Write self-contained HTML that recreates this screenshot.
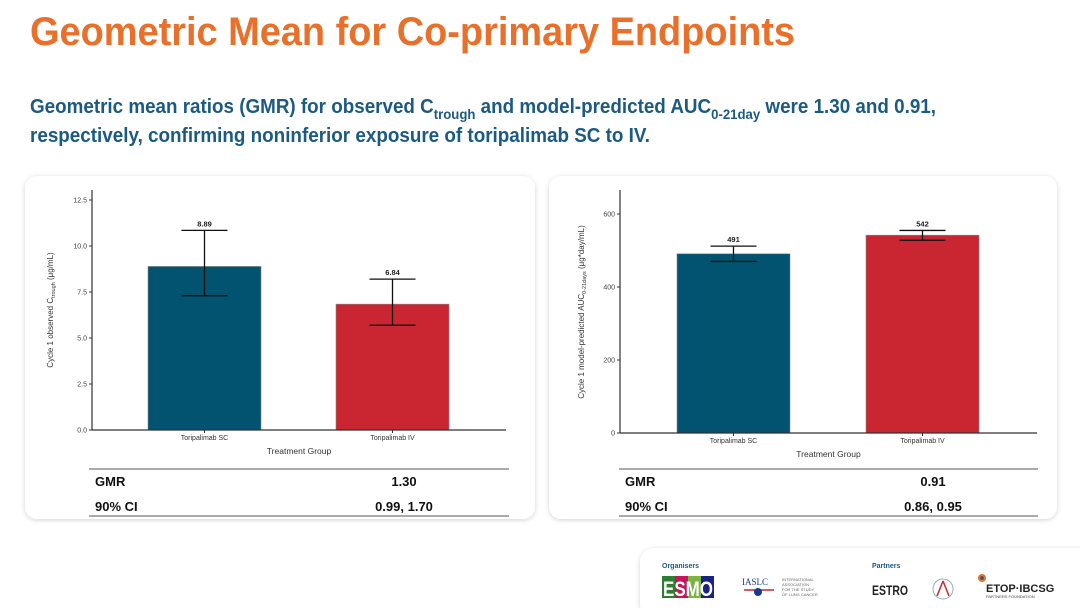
<!DOCTYPE html>
<html><head><meta charset="utf-8"><style>
html,body{margin:0;padding:0;background:#fff;}
svg{display:block;font-family:"Liberation Sans",Arial,sans-serif;}
</style></head><body>
<svg id="page" width="1080" height="608" viewBox="0 0 1080 608" xmlns="http://www.w3.org/2000/svg">
<defs>
<filter id="sh" x="-5%" y="-5%" width="110%" height="115%"><feDropShadow dx="0" dy="1" stdDeviation="2.5" flood-color="#000" flood-opacity="0.18"/></filter>
</defs>
<text x="30" y="45" font-size="40" font-weight="bold" fill="#E8702A" textLength="765" lengthAdjust="spacingAndGlyphs">Geometric Mean for Co-primary Endpoints</text>
<text x="30" y="113" font-size="20" font-weight="bold" fill="#1B5A82" textLength="906" lengthAdjust="spacingAndGlyphs">Geometric mean ratios (GMR) for observed C<tspan font-size="14" dy="6">trough</tspan><tspan dy="-6"> and model-predicted AUC</tspan><tspan font-size="14" dy="6">0-21day</tspan><tspan dy="-6"> were 1.30 and 0.91,</tspan></text>
<text x="30" y="142" font-size="20" font-weight="bold" fill="#1B5A82" textLength="620" lengthAdjust="spacingAndGlyphs">respectively, confirming noninferior exposure of toripalimab SC to IV.</text>

<rect x="25" y="176" width="510" height="343" rx="12" fill="#fff" filter="url(#sh)"/>
<rect x="549" y="176" width="508" height="343" rx="12" fill="#fff" filter="url(#sh)"/>
<g id="left"></g>
<g id="right"></g>

<text transform="translate(53,310) rotate(-90)" font-size="8" fill="#333" text-anchor="middle">Cycle 1 observed C<tspan font-size="5.5" dy="2">trough</tspan><tspan dy="-2"> (μg/mL)</tspan></text>
<text transform="translate(584,312) rotate(-90)" font-size="8" fill="#333" text-anchor="middle">Cycle 1 model-predicted AUC<tspan font-size="5.5" dy="2">0-21days</tspan><tspan dy="-2"> (μg*day/mL)</tspan></text>

<rect x="640" y="548" width="460" height="70" rx="14" fill="#fff" filter="url(#sh)"/>
<text x="662" y="568" font-size="7" font-weight="bold" fill="#1B5A82">Organisers</text>
<text x="872" y="568" font-size="7" font-weight="bold" fill="#1B5A82">Partners</text>
<g>
<rect x="662" y="576" width="13" height="22" fill="#2e7d32"/><rect x="675" y="576" width="13" height="22" fill="#c2185b"/><rect x="688" y="576" width="13" height="22" fill="#7cb342"/><rect x="701" y="576" width="13" height="22" fill="#1a237e"/>
<text x="663" y="596" font-size="21" font-weight="bold" fill="#fff" textLength="50" lengthAdjust="spacingAndGlyphs">ESMO</text></g>
<text x="742" y="585" font-size="9" font-family="Liberation Serif,serif" fill="#1a3a8a">IASLC</text>
<line x1="744" y1="590" x2="774" y2="590" stroke="#c62828" stroke-width="1.5"/><circle cx="758" cy="592" r="4" fill="#1a3a8a"/>
<text x="782" y="581" font-size="4" fill="#666">INTERNATIONAL</text><text x="782" y="586" font-size="4" fill="#666">ASSOCIATION</text><text x="782" y="591" font-size="4" fill="#666">FOR THE STUDY</text><text x="782" y="596" font-size="4" fill="#666">OF LUNG CANCER</text>
<text x="872" y="595" font-size="14" font-weight="bold" fill="#222" textLength="36" lengthAdjust="spacingAndGlyphs">ESTRO</text>
<circle cx="943" cy="589" r="10" fill="none" stroke="#9ab" stroke-width="1"/><path d="M943 581 L937 596 M943 581 L949 596" stroke="#c62828" stroke-width="1.5" fill="none"/>
<circle cx="982" cy="578" r="4" fill="#e8702a"/><circle cx="982" cy="578" r="1.8" fill="#1B5A82"/>
<text x="986" y="592" font-size="11" font-weight="bold" fill="#222">ETOP·IBCSG</text>
<text x="986" y="598" font-size="4" fill="#444">PARTNERS FOUNDATION</text>

<script>
const categories = ["Toripalimab SC", "Toripalimab IV"];
const cTroughValues = [8.89, 6.84];
const cTroughLower = [7.3, 5.7];
const cTroughUpper = [10.85, 8.2];
const cTroughTicks = [0, 2.5, 5, 7.5, 10, 12.5];
const cTroughTickLabels = ["0.0", "2.5", "5.0", "7.5", "10.0", "12.5"];
const cTroughValueLabels = ["8.89", "6.84"];
const aucValues = [491, 542];
const aucLower = [470, 528];
const aucUpper = [512, 555];
const aucTicks = [0, 200, 400, 600];
const aucTickLabels = ["0", "200", "400", "600"];
const aucValueLabels = ["491", "542"];
const leftTable = ["1.30", "0.99, 1.70"];
const rightTable = ["0.91", "0.86, 0.95"];
const colors = ["#02536F", "#C92631"];
const NS = "http://www.w3.org/2000/svg";
function mk(parent, tag, attrs, text) {
  const e = document.createElementNS(NS, tag);
  for (const k in attrs) e.setAttribute(k, attrs[k]);
  if (text !== undefined) e.textContent = text;
  parent.appendChild(e);
  return e;
}
function drawChart(g, cfg) {
  const y = v => cfg.y0 - (v - 0) / cfg.vmax * (cfg.y0 - cfg.yTop);
  const bx = i => cfg.barX[i];
  const ya = mk(g, "line", {x1: cfg.ax, y1: 190, x2: cfg.ax, y2: cfg.y0, stroke: "#333", "stroke-width": 1.2});
  
  
  cfg.ticks.forEach((t, i) => {
    const tk = mk(g, "line", {x1: cfg.ax - 3, y1: y(t), x2: cfg.ax, y2: y(t), stroke: "#333", "stroke-width": 1});
    
    
    const tl = mk(g, "text", {x: cfg.ax - 5, y: y(t) + 2.5, "font-size": 7, fill: "#444", "text-anchor": "end"}, cfg.tickLabels[i]);
    
    
  });
  cfg.values.forEach((v, i) => {
    const x0 = bx(i), w = cfg.barW, cx = x0 + w / 2;
    const b = mk(g, "rect", {x: x0, y: y(v), width: w, height: cfg.y0 - y(v), fill: colors[i], stroke: "#888", "stroke-width": 0.6});
    
    
    const eb = mk(g, "path", {d: `M${cx} ${y(cfg.lower[i])}V${y(cfg.upper[i])}M${cx - 23} ${y(cfg.upper[i])}H${cx + 23}M${cx - 23} ${y(cfg.lower[i])}H${cx + 23}`, stroke: "#111", "stroke-width": 1.3, fill: "none"});
    
    
    const vl = mk(g, "text", {x: cx, y: y(cfg.upper[i]) - 4, "font-size": 7.5, "font-weight": "bold", fill: "#222", "text-anchor": "middle"}, cfg.valueLabels[i]);
    
    
    const xt = mk(g, "line", {x1: cx, y1: cfg.y0, x2: cx, y2: cfg.y0 + 3, stroke: "#333"});
    
    
    const xl = mk(g, "text", {x: cx, y: cfg.y0 + 10, "font-size": 7, fill: "#333", "text-anchor": "middle"}, categories[i]);
    
    
  });
  const xa = mk(g, "line", {x1: cfg.ax, y1: cfg.y0, x2: cfg.axEnd, y2: cfg.y0, stroke: "#333", "stroke-width": 1.2});
  
  
  const xtt = mk(g, "text", {x: (cfg.ax + cfg.axEnd) / 2, y: cfg.y0 + 24, "font-size": 8.5, fill: "#333", "text-anchor": "middle"}, "Treatment Group");
  
  
  const tl1 = mk(g, "line", {x1: cfg.tx0, y1: 469, x2: cfg.tx1, y2: 469, stroke: "#777", "stroke-width": 1.2});
  
  
  const tl2 = mk(g, "line", {x1: cfg.tx0, y1: 516, x2: cfg.tx1, y2: 516, stroke: "#777", "stroke-width": 1.2});
  
  
  const labels = ["GMR", "90% CI"];
  [486, 511].forEach((ry, i) => {
    const a = mk(g, "text", {x: cfg.tx0 + 6, y: ry, "font-size": 13, "font-weight": "bold", fill: "#111"}, labels[i]);
    
    
    const b = mk(g, "text", {x: cfg.tcol, y: ry, "font-size": 13, "font-weight": "bold", fill: "#111", "text-anchor": "middle"}, cfg.table[i]);
    
    
  });
}
drawChart(document.getElementById("left"), {
  ax: 92, axEnd: 506, y0: 430, yTop: 200, vmax: 12.5, barX: [148, 336], barW: 113,
  values: cTroughValues, lower: cTroughLower, upper: cTroughUpper,
  ticks: cTroughTicks, tickLabels: cTroughTickLabels, valueLabels: cTroughValueLabels,
  tx0: 89, tx1: 509, tcol: 404, table: leftTable
});
drawChart(document.getElementById("right"), {
  ax: 620, axEnd: 1037, y0: 433, yTop: 214, vmax: 600, barX: [677, 866], barW: 113,
  values: aucValues, lower: aucLower, upper: aucUpper,
  ticks: aucTicks, tickLabels: aucTickLabels, valueLabels: aucValueLabels,
  tx0: 619, tx1: 1038, tcol: 933, table: rightTable
});
</script>
</svg>
</body></html>
